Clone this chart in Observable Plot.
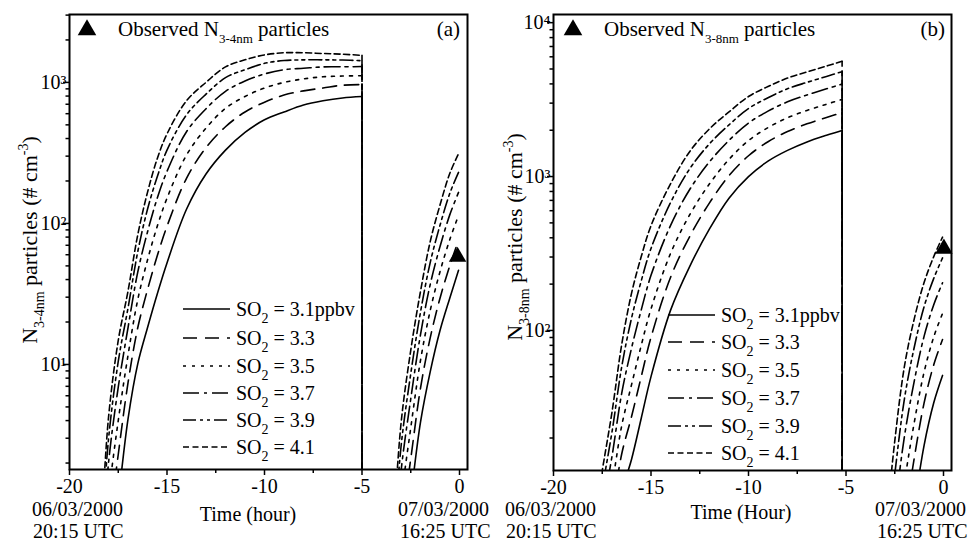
<!DOCTYPE html>
<html><head><meta charset="utf-8">
<script src="https://cdn.jsdelivr.net/npm/d3@7"></script>
<script src="https://cdn.jsdelivr.net/npm/@observablehq/plot@0.6"></script>
<style>
body{margin:0;background:#fff;}
#wrap{position:relative;width:970px;height:541px;font-family:"Liberation Serif","Times New Roman",serif;}
#wrap svg{position:absolute;top:0;overflow:visible;}
#wrap svg text{font-family:"Liberation Serif","Times New Roman",serif !important;}
</style></head><body><div id="wrap"></div>
<script>
// ---------- data ----------
const so2Levels = ["3.1ppbv", "3.3", "3.5", "3.7", "3.9", "4.1"];
const dashes = [undefined, "14,8", "3,6", "16,5,3,5", "13,4,3,4,3,4", "6,3.5"];

const xMajor = [-20, -15, -10, -5, 0];
const xMinor = [-17.5, -12.5, -7.5, -2.5];

// Panel (a): N 3-4nm
const tA1 = [-18.3,-18,-17.5,-17,-16.5,-16,-15.5,-15,-14,-13,-12,-11,-10,-9,-8,-7,-6,-5];
const a1_31 = [0.14,0.32,1.1,4.1,10.1,18.2,31.6,52.5,126,224,331,442,543,617,692,741,776,794];
const a1_33 = [0.25,0.65,2.3,7.4,18.2,33.9,58.9,95.5,209,345,485,617,724,813,871,912,955,965];
const a1_35 = [0.38,1.15,4.0,11.6,28.8,55,95.5,151,305,474,655,794,912,1000,1059,1096,1109,1115];
const a1_37 = [0.56,2.0,6.9,18.2,45.2,87,151,234,447,650,865,1023,1148,1230,1259,1288,1290,1295];
const a1_39 = [0.78,2.95,10.5,25.1,63,126,214,331,589,825,1080,1230,1365,1429,1445,1445,1440,1425];
const a1_41 = [1.0,4.2,14.8,33.1,83,166,288,431,741,1000,1288,1445,1567,1622,1622,1603,1585,1555];

const tA2 = [-3.4,-3,-2.5,-2,-1.5,-1,-0.5,-0.05];
const a2_31 = [0.13,0.35,1.15,3.9,8.9,17.4,29.5,46.5];
const a2_33 = [0.19,0.66,2.14,6.8,15.5,29.5,50,76];
const a2_35 = [0.27,1.07,3.55,10.7,24.2,45.5,76.7,114];
const a2_37 = [0.37,1.74,5.7,16.3,37,68.5,115,166];
const a2_39 = [0.49,2.6,8.6,23.5,53,97,163,230];
const a2_41 = [0.63,3.8,12.6,33,74.6,135,226,312];

const obsA_t = -0.1, obsA_v = 58;
const yA_major = [10, 100, 1000];
const yA_minor = [2,3,4,5,6,7,8,9,20,30,40,50,60,70,80,90,200,300,400,500,600,700,800,900,2000,3000];

// Panel (b): N 3-8nm
const tB1 = [-18,-17.5,-17,-16.5,-16,-15.5,-15,-14,-13,-12,-11,-10,-9,-8,-7,-6,-5.2];
const b1_31 = [1.0,2.0,4.0,8.9,14.5,26.9,50.1,135,263,457,724,1000,1259,1479,1679,1854,1991];
const b1_33 = [1.5,3.2,6.7,15.8,27.5,50.1,90.2,221,411,675,1014,1365,1683,1960,2200,2420,2606];
const b1_35 = [2.07,4.5,9.8,24.1,44.3,80,138,316,569,897,1294,1714,2080,2410,2690,2950,3177];
const b1_37 = [2.94,6.7,15.2,39.2,76.6,136,228,480,830,1247,1718,2228,2661,3060,3390,3715,3990];
const b1_39 = [3.9,9.4,21.9,58.3,120,210,341,676,1130,1633,2168,2767,3251,3720,4095,4475,4808];
const b1_41 = [5.0,12.3,29.5,81.3,174,302,479,897,1462,2042,2630,3311,3846,4365,4786,5224,5610];

const tB2 = [-3,-2.5,-2,-1.5,-1,-0.5,-0.05];
const b2_31 = [0.32,0.89,2.5,7.1,17.8,33.9,51];
const b2_33 = [0.63,1.95,5.7,14.8,33.6,59.8,87.3];
const b2_35 = [1.04,3.47,10.3,25.2,53.3,90.8,129];
const b2_37 = [1.86,6.7,20.6,46.9,91.2,147,204];
const b2_39 = [3.0,11.6,36.2,77.8,142,218,296];
const b2_41 = [4.5,19.1,58.9,119,204,302,404];

const obsB_t = 0.02, obsB_v = 340;
const yB_major = [100, 1000, 10000];
const yB_minor = [20,30,40,50,60,70,80,90,200,300,400,500,600,700,800,900,2000,3000,4000,5000,6000,7000,8000,9000];

// ---------- drawing ----------
const FONT = '"Liberation Serif","Times New Roman",serif';
const SUP = {"1":"¹","2":"²","3":"³","4":"⁴"};

function makePanel(cfg) {
  const marks = [
    Plot.axisX({ticks: xMajor, tickSize: 6, tickPadding: 3, tickFormat: d => String(d), label: null, strokeWidth: 1.5}),
    Plot.axisX({ticks: xMinor, tickSize: 4, tickFormat: () => "", label: null, strokeWidth: 1.5}),
    Plot.axisY({ticks: cfg.yMajor, tickSize: 6, tickPadding: -3, tickFormat: v => "10" + SUP[Math.round(Math.log10(v))], label: null, strokeWidth: 1.5}),
    Plot.axisY({ticks: cfg.yMinor, tickSize: 3.5, tickFormat: () => "", label: null, strokeWidth: 1.5})
  ];
  cfg.seg1.forEach((vals, k) => {
    const d1 = cfg.t1.map((t, i) => ({t, v: vals[i]}));
    const d2 = cfg.t2.map((t, i) => ({t, v: cfg.seg2[k][i]}));
    const o = {x: "t", y: "v", stroke: "black", strokeWidth: 1.6, curve: "catmull-rom", clip: true, strokeDasharray: dashes[k]};
    marks.push(Plot.line(d1, o), Plot.line(d2, o));
    const last = d1[d1.length - 1];
    marks.push(Plot.ruleX([{t: last.t, v: last.v, v0: cfg.yDomain[0]}], {x: "t", y1: "v", y2: "v0", stroke: "black", strokeWidth: 1.6, strokeDasharray: dashes[k]}));
  });
  marks.push(Plot.dot([{t: cfg.obsT, v: cfg.obsV}], {x: "t", y: "v", symbol: "triangle", r: 6.5, fill: "black", stroke: "none"}));
  marks.push(Plot.frame({stroke: "black", strokeWidth: 2}));
  return Plot.plot({
    width: 485, height: 541,
    marginLeft: cfg.ml, marginRight: cfg.mr, marginTop: 14, marginBottom: cfg.mb,
    x: {domain: [-20, 0.41]},
    y: {type: "log", domain: cfg.yDomain},
    style: {fontFamily: FONT, fontSize: "20px", background: "transparent", color: "black"},
    marks
  });
}

function rich(sel, x, y, parts, size, anchor, transform) {
  const t = sel.append("text").attr("x", x).attr("y", y)
    .attr("font-size", size).attr("text-anchor", anchor || "start")
    .attr("font-family", FONT).attr("fill", "black");
  if (transform) t.attr("transform", transform);
  let cur = 0;
  parts.forEach(([s, kind, fs]) => {
    const off = kind === "sub" ? size * 0.33 : kind === "sup" ? -size * 0.4 : 0;
    t.append("tspan").attr("dy", off - cur).attr("font-size", fs || (kind ? Math.round(size * 0.65) : size)).text(s);
    cur = off;
  });
  return t;
}

function plain(g, x, y, s, size, anchor) {
  return g.append("text").attr("x", x).attr("y", y).attr("text-anchor", anchor || "start")
    .attr("font-size", size).attr("font-family", FONT).attr("fill", "black").text(s);
}

function decorate(svg, cfg) {
  const g = d3.select(svg).append("g");
  g.append("path").attr("d", d3.symbol(d3.symbolTriangle, 150)())
    .attr("transform", `translate(${cfg.triX},30)`).attr("fill", "black");
  rich(g, cfg.titleX, 36, [["Observed N"], [cfg.sub, "sub", 13], [" particles"]], 21);
  plain(g, 460, 36, cfg.tag, 21, "end");
  rich(g, 0, 0, [["N"], [cfg.sub, "sub", 14], [" particles (# cm"], ["-3", "sup", 14], [")"]], 22, "middle",
    `translate(${cfg.ylx},${cfg.yly}) rotate(-90)`);
  plain(g, cfg.xlx, cfg.xly, cfg.xlabel, 20, "middle");
  plain(g, cfg.d1x, 516, "06/03/2000", 20);
  plain(g, cfg.d1x + 1, 538, "20:15 UTC", 20);
  plain(g, cfg.d2x, 516, "07/03/2000", 20);
  plain(g, cfg.d2x + 2, 538, "16:25 UTC", 20);
  so2Levels.forEach((lv, k) => {
    const y = cfg.legY[k];
    const ln = g.append("line").attr("x1", cfg.legX).attr("x2", cfg.legX + 47).attr("y1", y).attr("y2", y)
      .attr("stroke", "black").attr("stroke-width", 1.6);
    if (dashes[k]) ln.attr("stroke-dasharray", dashes[k]);
    rich(g, cfg.legX + 53, y + 7, [["SO"], ["2", "sub", 14], [" = " + lv]], 20);
  });
}

const wrap = document.getElementById("wrap");

const cfgA = {t1: tA1, seg1: [a1_31,a1_33,a1_35,a1_37,a1_39,a1_41], t2: tA2, seg2: [a2_31,a2_33,a2_35,a2_37,a2_39,a2_41],
  obsT: obsA_t, obsV: obsA_v, yDomain: [1.8, 3030], yMajor: yA_major, yMinor: yA_minor, ml: 69, mr: 18, mb: 72};
const cfgB = {t1: tB1, seg1: [b1_31,b1_33,b1_35,b1_37,b1_39,b1_41], t2: tB2, seg2: [b2_31,b2_33,b2_35,b2_37,b2_39,b2_41],
  obsT: obsB_t, obsV: obsB_v, yDomain: [12.3, 11300], yMajor: yB_major, yMinor: yB_minor, ml: 68, mr: 19, mb: 71};

const svgA = makePanel(cfgA);
svgA.style.left = "0px";
wrap.appendChild(svgA);
decorate(svgA, {triX: 87, titleX: 118, sub: "3-4nm", tag: "(a)", ylx: 37, yly: 240, xlabel: "Time (hour)", xlx: 248, xly: 521,
  d1x: 32, d2x: 398, legX: 183, legY: [309, 338, 366, 393, 420, 447]});

const svgB = makePanel(cfgB);
svgB.style.left = "485px";
wrap.appendChild(svgB);
decorate(svgB, {triX: 88, titleX: 119, sub: "3-8nm", tag: "(b)", ylx: 37, yly: 237, xlabel: "Time (Hour)", xlx: 256, xly: 519,
  d1x: 20, d2x: 390, legX: 183, legY: [315, 342, 370, 398, 426, 453]});
</script></body></html>
